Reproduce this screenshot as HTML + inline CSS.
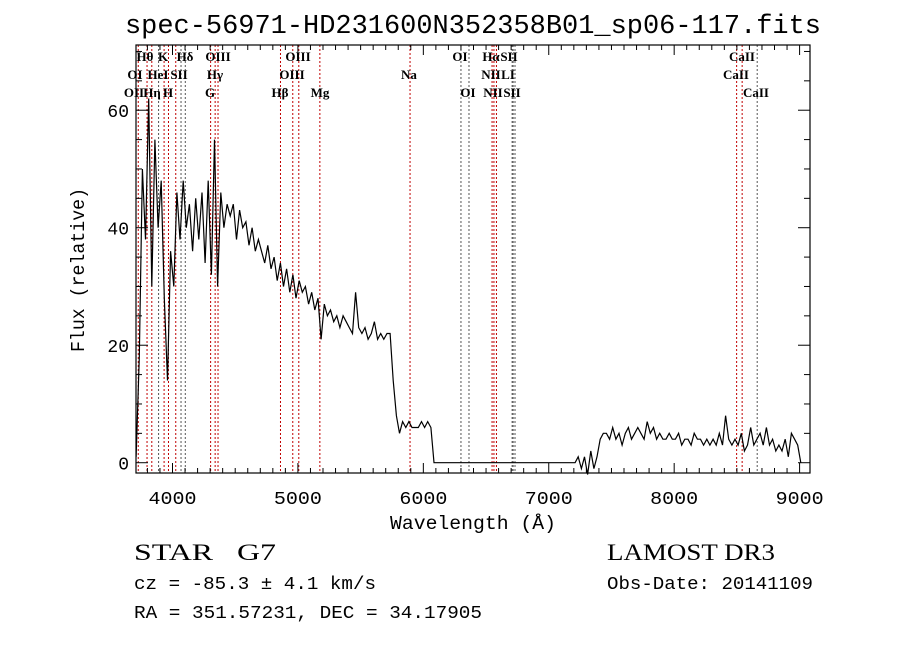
<!DOCTYPE html>
<html><head><meta charset="utf-8"><style>
html,body{margin:0;padding:0;background:#fff;}
svg{display:block;}
text{font-family:"Liberation Mono",monospace;fill:#000;}
.lbl{font-family:"Liberation Serif",serif;font-size:13px;}
.ser{font-family:"Liberation Serif",serif;}
</style></head><body>
<svg id="chart" width="900" height="649" viewBox="0 0 900 649" xmlns="http://www.w3.org/2000/svg">
<rect width="900" height="649" fill="#fff"/>
<text x="473" y="33" text-anchor="middle" font-size="27" textLength="696" lengthAdjust="spacingAndGlyphs">spec-56971-HD231600N352358B01_sp06-117.fits</text>
<g id="lines"></g>
<g id="labels"></g>
<g id="ticks"></g>
<path id="spec" fill="none" stroke="#000" stroke-width="1.2"/>
<rect x="136" y="45" width="674" height="428" fill="none" stroke="#000" stroke-width="1.2"/>
<text x="473" y="529" text-anchor="middle" font-size="19" textLength="166" lengthAdjust="spacingAndGlyphs">Wavelength (Å)</text>
<text x="0" y="0" text-anchor="middle" font-size="19" textLength="164" lengthAdjust="spacingAndGlyphs" transform="translate(84,270) rotate(-90)">Flux (relative)</text>
<text class="ser" x="134" y="560" font-size="23" textLength="142" lengthAdjust="spacingAndGlyphs">STAR&#160;&#160;&#160;G7</text>
<text class="ser" x="607" y="560" font-size="23" textLength="168" lengthAdjust="spacingAndGlyphs">LAMOST DR3</text>
<text x="134" y="589" font-size="18" textLength="242" lengthAdjust="spacingAndGlyphs">cz = -85.3 ± 4.1 km/s</text>
<text x="607" y="589" font-size="18" textLength="206" lengthAdjust="spacingAndGlyphs">Obs-Date: 20141109</text>
<text x="134" y="618" font-size="18" textLength="348" lengthAdjust="spacingAndGlyphs">RA = 351.57231, DEC =  34.17905</text>
</svg>
<script>
const waveStart = 3710;
const waveStep = 25;
const flux = [
 1,18,50,38,62,30,55,40,48,28,
 14,36,30,46,38,48,40,44,36,45,
 38,46,34,48,32,55,30,46,40,44,
 42,44,38,43,40,41,37,40,36,38,
 36,34,37,33,35,31,34,30,33,29,
 32,28,31,29,30,27,29,26,28,21,
 27,25,26,24,25,23,25,24,23,22,
 29,23,22,23,21,22,24,21,22,21,
 22,22,14,8,5,7,6,7,6,6,
 6,7,6,7,6,0,0,0,0,0,
 0,0,0,0,0,0,0,0,0,0,
 0,0,0,0,0,0,0,0,0,0,
 0,0,0,0,0,0,0,0,0,0,
 0,0,0,0,0,0,0,0,0,0,
 0,1,-1,1,-2,2,-1,1,4,5,
 5,4,6,4,5,3,5,6,4,5,
 6,5,4,7,5,6,4,5,4,4,
 5,4,4,5,3,4,4,3,5,4,
 4,3,4,3,4,3,5,3,8,4,
 3,4,3,5,2,3,6,3,4,5,
 3,6,3,4,2,3,2,4,1,5,
 4,3,0
];
const xTicks = [4000,5000,6000,7000,8000,9000];
const yTicks = [0,20,40,60];
const lineWaves = [3727,3797,3835,3889,3933,3968,4026,4068,4102,4304,4340,4363,4861,4959,5007,5175,5894,6300,6364,6548,6563,6583,6708,6716,6731,8498,8542,8662];
const lineColors = ['r','r','r','g','r','r','r','g','g','r','r','r','r','r','r','r','r','g','g','r','r','r','g','g','g','r','r','g'];
const lineLabels = [
 ['Hθ',145,1],['K',163,1],['Hδ',185,1],['OIII',218,1],['OIII',298,1],['OI',460,1],['Hα',491,1],['SII',509,1],['CaII',742,1],
 ['OI',135,2],['HeI',158,2],['SII',179,2],['Hγ',215,2],['OIII',292,2],['Na',409,2],['NII',491,2],['LI',508,2],['CaII',736,2],
 ['OII',134,3],['Hη',152,3],['H',168,3],['G',210,3],['Hβ',280,3],['Mg',320,3],['OI',468,3],['NII',493,3],['SII',512,3],['CaII',756,3]
];
const X0=3709, X1=9083, Y0=-1.75, Y1=71.1;
const PL=136, PR=810, PT=45, PB=473;
function xs(w){return PL+(w-X0)/(X1-X0)*(PR-PL);}
function ys(v){return PB-(v-Y0)/(Y1-Y0)*(PB-PT);}
const NS='http://www.w3.org/2000/svg';
function mk(tag,attrs,parent){const e=document.createElementNS(NS,tag);for(const k in attrs)e.setAttribute(k,attrs[k]);parent.appendChild(e);return e;}
const gL=document.getElementById('lines');
lineWaves.forEach((w,i)=>{
 const l=mk('line',{x1:xs(w),x2:xs(w),y1:PT,y2:PB,stroke:lineColors[i]==='r'?'#c00000':'#555','stroke-width':1,'stroke-dasharray':'2,2'},gL);
 
 
});
const gT=document.getElementById('labels');
const rowY=[0,61,79,97];
lineLabels.forEach(a=>{
 const t=mk('text',{x:a[1],y:rowY[a[2]],'text-anchor':'middle','class':'lbl','font-weight':'bold'},gT);
 t.textContent=a[0];
 
 
});
const gK=document.getElementById('ticks');
for(let w=3800;w<=9000;w+=100){
 const major=w%1000===0, len=major?10:5;
 mk('line',{x1:xs(w),x2:xs(w),y1:PB,y2:PB-len,stroke:'#000'},gK);
 mk('line',{x1:xs(w),x2:xs(w),y1:PT,y2:PT+len,stroke:'#000'},gK);
}
for(let v=0;v<=70;v+=5){
 const major=v%20===0, len=major?12:6;
 mk('line',{x1:PL,x2:PL+len,y1:ys(v),y2:ys(v),stroke:'#000'},gK);
 mk('line',{x1:PR,x2:PR-len,y1:ys(v),y2:ys(v),stroke:'#000'},gK);
}
xTicks.forEach(w=>{
 const t=mk('text',{x:xs(w),y:504,'text-anchor':'middle','font-size':18,textLength:48,lengthAdjust:'spacingAndGlyphs'},gK);
 t.textContent=w;
 
 
});
yTicks.forEach(v=>{
 const t=mk('text',{x:129,y:ys(v)+7,'text-anchor':'end','font-size':18},gK);
 t.textContent=v;
 
 
});
let d='';
flux.forEach((f,i)=>{const w=waveStart+i*waveStep;d+=(i?'L':'M')+xs(w).toFixed(1)+','+ys(f).toFixed(1);});
document.getElementById('spec').setAttribute('d',d);
</script>
</body></html>
